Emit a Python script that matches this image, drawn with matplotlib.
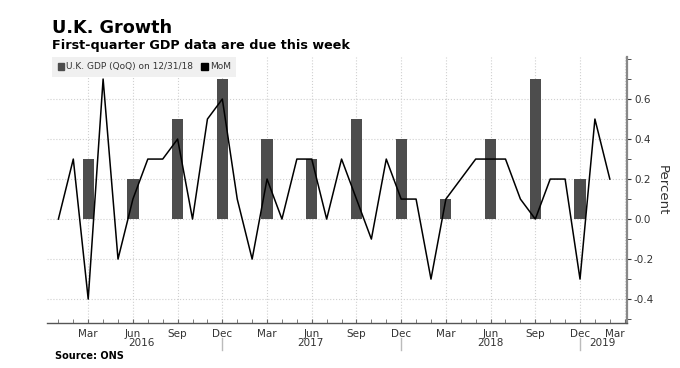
import matplotlib.pyplot as plt
from matplotlib.patches import Patch
from matplotlib.transforms import blended_transform_factory
import numpy as np
import pandas as pd

# monthly GDP change, Jan 2016 .. Feb 2019
mom_start = "2016-01"
mom = [0.0, 0.3, -0.4, 0.7, -0.2, 0.1, 0.3, 0.3, 0.4, 0.0, 0.5, 0.6,
       0.1, -0.2, 0.2, 0.0, 0.3, 0.3, 0.0, 0.3, 0.1, -0.1, 0.3, 0.1,
       0.1, -0.3, 0.1, 0.2, 0.3, 0.3, 0.3, 0.1, 0.0, 0.2, 0.2, -0.3,
       0.5, 0.2]

# quarterly GDP change
qoq_months = ["2016-03", "2016-06", "2016-09", "2016-12",
              "2017-03", "2017-06", "2017-09", "2017-12",
              "2018-03", "2018-06", "2018-09", "2018-12"]
qoq = [0.3, 0.2, 0.5, 0.7, 0.4, 0.3, 0.5, 0.4, 0.1, 0.4, 0.7, 0.2]

years = ["2016", "2017", "2018", "2019"]
year_pos = [5.6, 16.9, 29.0, 36.5]

BAR_COL = "#4d4d4d"
TXT_COL = "#333333"

start = pd.Period(mom_start, freq="M")
mom_x = np.arange(len(mom))
qoq_x = [(pd.Period(m, freq="M") - start).n for m in qoq_months]
all_months = pd.period_range(mom_start, periods=39, freq="M")

fig = plt.figure(figsize=(6.8, 3.68), dpi=100)
ax = fig.add_axes([0.069, 0.122, 0.853, 0.723])

ax.bar(qoq_x, qoq, width=0.75, color=BAR_COL, zorder=2)
ax.plot(mom_x, mom, color="black", lw=1.1, zorder=3)

ax.set_xlim(-0.77, 38.15)
ax.set_ylim(-0.52, 0.81)

# x axis: quarter labels, monthly minor ticks
qticks = [i for i, p in enumerate(all_months) if p.month in (3, 6, 9, 12)]
ax.set_xticks(qticks)
ax.set_xticklabels([all_months[i].strftime("%b") for i in qticks])
ax.set_xticks(range(len(all_months)), minor=True)
ax.tick_params(axis="x", which="both", direction="in", length=3,
               color="#666666", labelsize=7.5, labelcolor=TXT_COL, pad=4)
last = ax.get_xticklabels()[-1]
last.set_horizontalalignment("right")
last.set_x(last.get_position()[0])
ax.get_xticklabels()[-1].set_ha("right")

# y axis on the right
ax.yaxis.tick_right()
ax.set_yticks(np.arange(-0.4, 0.61, 0.2))
ax.set_yticklabels([f"{v:.1f}" for v in np.arange(-0.4, 0.61, 0.2)])
ax.set_yticks(np.arange(-0.5, 0.81, 0.1), minor=True)
ax.tick_params(axis="y", which="both", direction="out", length=3,
               color="#333333", labelsize=7.5, labelcolor=TXT_COL, pad=2)

ax.grid(axis="both", which="major", ls=":", color="#d0d0d0", lw=0.8, zorder=0)

for s in ("left", "top"):
    ax.spines[s].set_visible(False)
ax.spines["right"].set_color("#888888")
ax.spines["right"].set_linewidth(1.6)
ax.spines["bottom"].set_color("#555555")
ax.spines["bottom"].set_linewidth(1.0)

# year labels and separators
tr = blended_transform_factory(ax.transData, ax.transAxes)
for y, xp in zip(years, year_pos):
    ax.text(xp, -0.074, y, transform=tr, ha="center", va="center",
            fontsize=7.5, color=TXT_COL)
for i, p in enumerate(all_months):
    if p.month == 12:
        ax.plot([i, i], [-0.055, -0.102], transform=tr, color="#bbbbbb",
                lw=1.0, clip_on=False)

# legend
handles = [Patch(color=BAR_COL), Patch(color="black")]
leg = ax.legend(handles, ["U.K. GDP (QoQ) on 12/31/18", "MoM"], ncol=2,
                loc="upper left", bbox_to_anchor=(0.009, 1.0), frameon=True,
                facecolor="#f0f0f0", edgecolor="none", framealpha=1,
                fancybox=False, fontsize=6.5, handlelength=0.75,
                handleheight=0.75, handletextpad=0.2, columnspacing=0.9,
                borderpad=0.6, borderaxespad=0)
for t in leg.get_texts():
    t.set_color(TXT_COL)

fig.text(662 / 680, 1 - 190 / 368, "Percent", rotation=270, ha="center",
         va="center", fontsize=9.5, color=TXT_COL)

fig.text(52 / 680, 1 - 33.3 / 368, "U.K. Growth", fontsize=12.7,
         weight="bold", va="baseline", ha="left")
fig.text(52 / 680, 1 - 49.3 / 368, "First-quarter GDP data are due this week",
         fontsize=9.2, weight="bold", va="baseline", ha="left")
fig.text(55 / 680, 1 - 359.3 / 368, "Source: ONS", fontsize=7,
         weight="bold", va="baseline", ha="left")

fig.savefig("out.png", dpi=100)
